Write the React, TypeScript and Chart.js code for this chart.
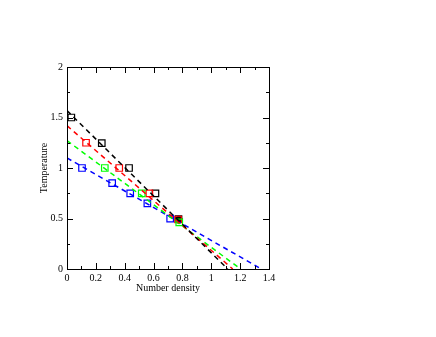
import React, { useEffect, useRef } from "react";
import { Chart, registerables } from "chart.js";

Chart.register(...registerables);

// Simulation points (Number density, Temperature)
const blackX = [0.03, 0.241, 0.43, 0.613, 0.773];
const blackY = [1.5, 1.247, 1.0, 0.749, 0.495];
const redX = [0.132, 0.362, 0.571, 0.77];
const redY = [1.25, 1.0, 0.749, 0.49];
const greenX = [0.262, 0.518, 0.778];
const greenY = [1.0, 0.749, 0.462];
const blueX = [0.104, 0.313, 0.438, 0.557, 0.715];
const blueY = [1.0, 0.851, 0.749, 0.65, 0.498];
// Critical point
const critX = [0.775];
const critY = [0.487];

// Fitted lines (endpoints)
const blackFitX = [0, 1.114];
const blackFitY = [1.568, 0];
const redFitX = [0, 1.149];
const redFitY = [1.419, 0];
const greenFitX = [0, 1.203];
const greenFitY = [1.271, 0];
const blueFitX = [0, 1.347];
const blueFitY = [1.099, 0];

const xMin = 0, xMax = 1.4, xStep = 0.2, xMinor = 0.1;
const yMin = 0, yMax = 2, yStep = 0.5, yMinor = 0.25;

const xTitle = "Number density";
const yTitle = "Temperature";

const zip = (xs: number[], ys: number[]) => xs.map((x, i) => ({ x, y: ys[i] }));

const FONT = "'Liberation Serif', 'Times New Roman', serif";

const framePlugin = {
  id: "frameTicks",
  afterDatasetsDraw(chart: any) {
    const { ctx, chartArea: a, scales } = chart;
    const xs = scales.x, ys = scales.y;
    ctx.save();
    ctx.strokeStyle = "#000";
    ctx.lineWidth = 1;
    ctx.beginPath();
    const tick = (x1: number, y1: number, x2: number, y2: number) => {
      ctx.moveTo(x1, y1);
      ctx.lineTo(x2, y2);
    };
    for (let v = xMin; v <= xMax + 1e-9; v += xMinor) {
      const major = Math.abs(v / xStep - Math.round(v / xStep)) < 1e-6;
      const L = major ? 6 : 3;
      const px = Math.round(xs.getPixelForValue(v)) + 0.5;
      tick(px, a.bottom, px, a.bottom - L);
      tick(px, a.top, px, a.top + L);
    }
    for (let v = yMin; v <= yMax + 1e-9; v += yMinor) {
      const major = Math.abs(v / yStep - Math.round(v / yStep)) < 1e-6;
      const L = major ? 6 : 3;
      const py = Math.round(ys.getPixelForValue(v)) + 0.5;
      tick(a.left, py, a.left + L, py);
      tick(a.right, py, a.right - L, py);
    }
    ctx.stroke();
    ctx.strokeRect(Math.round(a.left) + 0.5, Math.round(a.top) + 0.5,
      Math.round(a.right - a.left), Math.round(a.bottom - a.top));
    ctx.restore();
  },
};

export default function App() {
  const ref = useRef<HTMLCanvasElement>(null);
  useEffect(() => {
    if (!ref.current) return;
    const lineDs = (xs: number[], ys: number[], color: string) => ({
      data: zip(xs, ys),
      showLine: true,
      borderColor: color,
      borderWidth: 1.5,
      borderDash: [5, 4],
      pointRadius: 0,
      fill: false,
    });
    const markDs = (xs: number[], ys: number[], color: string) => ({
      data: zip(xs, ys),
      showLine: false,
      borderColor: color,
      backgroundColor: "rgba(0,0,0,0)",
      pointStyle: "rect",
      pointRadius: 4.6,
      pointBorderWidth: 1.2,
    });
    const chart = new Chart(ref.current, {
      type: "scatter",
      data: {
        datasets: [
          lineDs(blackFitX, blackFitY, "#000000"),
          lineDs(redFitX, redFitY, "#ff0000"),
          lineDs(greenFitX, greenFitY, "#00ff00"),
          lineDs(blueFitX, blueFitY, "#0000ff"),
          markDs(blueX, blueY, "#0000ff"),
          markDs(greenX, greenY, "#00ff00"),
          markDs(redX, redY, "#ff0000"),
          markDs(blackX, blackY, "#000000"),
          {
            data: zip(critX, critY),
            showLine: false,
            borderColor: "#000",
            backgroundColor: "#000",
            pointStyle: "circle",
            pointRadius: 3.5,
          },
        ] as any,
      },
      options: {
        animation: false,
        responsive: false,
        maintainAspectRatio: false,
        layout: { padding: { left: 20, top: 67, right: 167, bottom: 38 } },
        plugins: { legend: { display: false }, tooltip: { enabled: false } },
        scales: {
          x: {
            type: "linear",
            min: xMin,
            max: xMax,
            afterFit: (s: any) => { s.height = 30; },
            grid: { display: false, drawTicks: false },
            border: { display: false },
            ticks: {
              stepSize: xStep,
              padding: 3,
              color: "#000",
              font: { family: FONT, size: 10 },
              maxRotation: 0,
              callback: (v: any) => String(+Number(v).toFixed(2)),
            },
            title: {
              display: true,
              text: xTitle,
              color: "#000",
              font: { family: FONT, size: 10 },
              padding: { top: 0, bottom: 5 },
            },
          },
          y: {
            type: "linear",
            min: yMin,
            max: yMax,
            afterFit: (s: any) => { s.width = 47; },
            grid: { display: false, drawTicks: false },
            border: { display: false },
            ticks: {
              stepSize: yStep,
              padding: 4,
              color: "#000",
              font: { family: FONT, size: 10 },
              callback: (v: any) => String(+Number(v).toFixed(2)),
            },
            title: {
              display: true,
              text: yTitle,
              color: "#000",
              font: { family: FONT, size: 10 },
              padding: { top: 18, bottom: 0 },
            },
          },
        },
      },
      plugins: [framePlugin],
    });
    return () => chart.destroy();
  }, []);
  return (
    <div style={{ position: "fixed", left: 0, top: 0, width: 436, height: 337, background: "#fff" }}>
      <canvas ref={ref} width={436} height={337} style={{ width: 436, height: 337, display: "block" }} />
    </div>
  );
}
